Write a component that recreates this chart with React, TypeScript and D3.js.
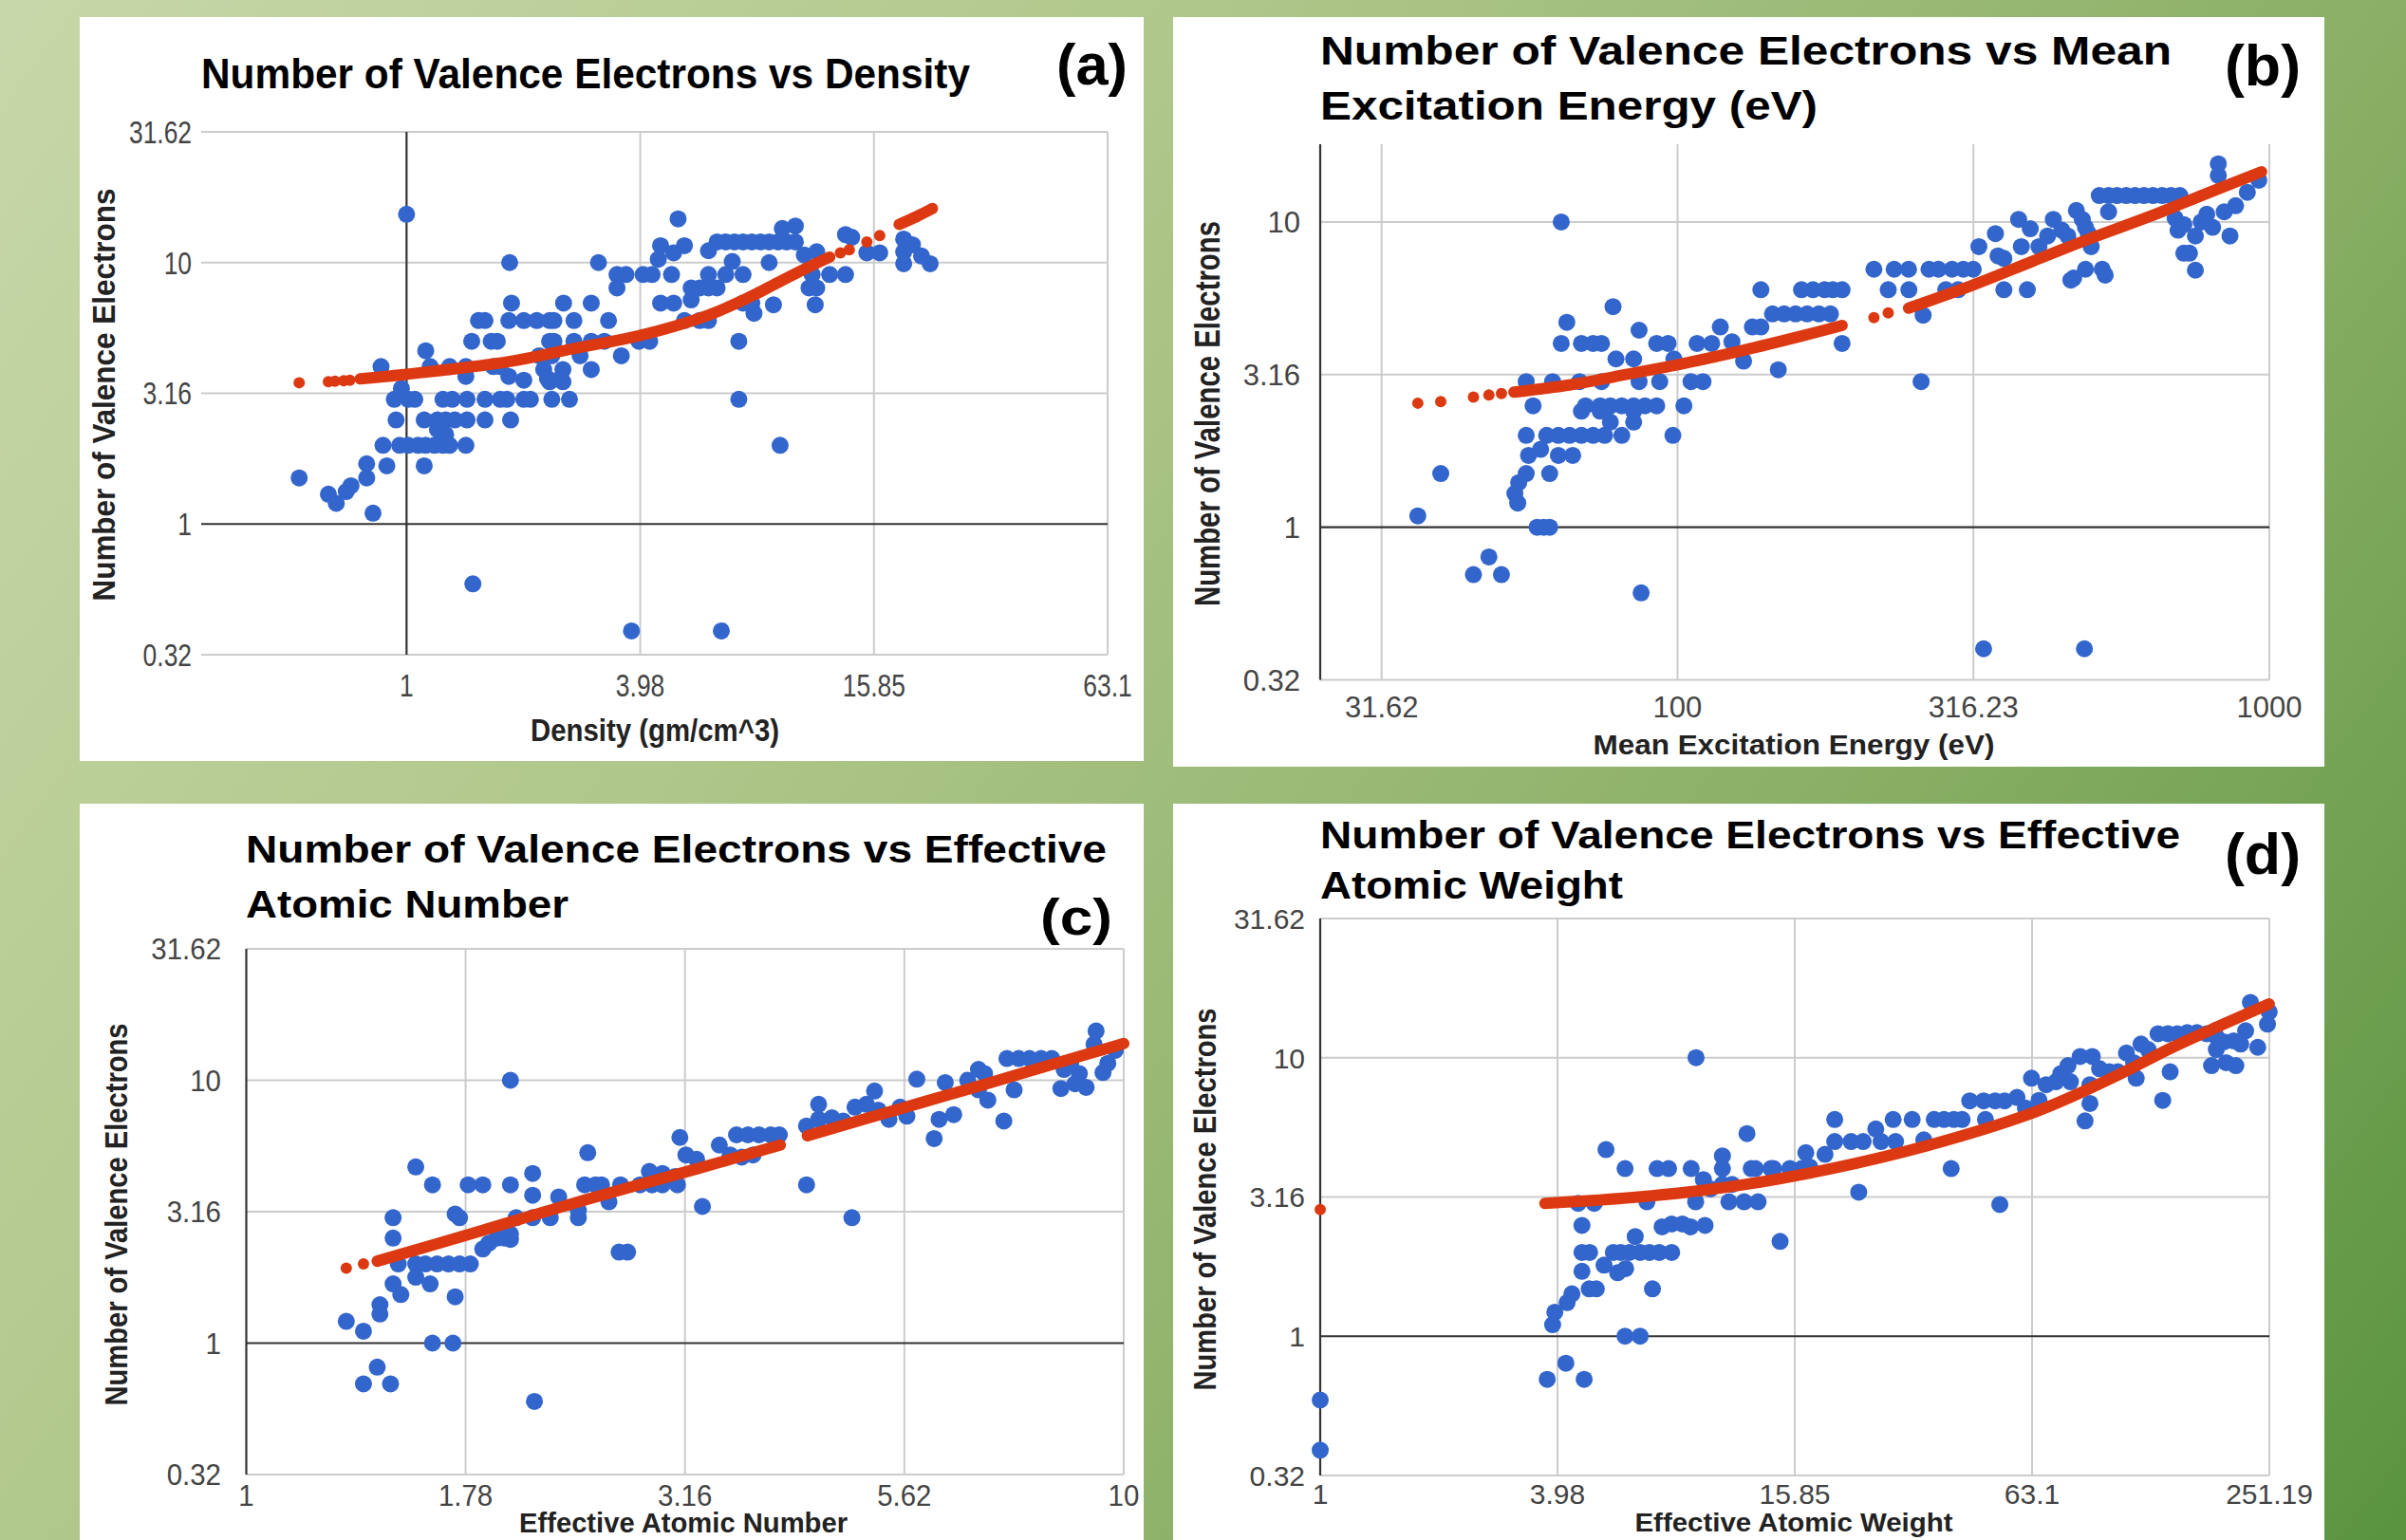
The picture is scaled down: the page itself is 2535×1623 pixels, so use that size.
import React from 'react';
import * as d3 from 'd3';

type Pt = [number, number];

// ---------------- tick values / labels ----------------
const yTickVals = [0.3162, 1, 3.162, 10, 31.62];
const yTickLabels = ['0.32', '1', '3.16', '10', '31.62'];
const yTickValsB = [0.3162, 1, 3.162, 10];
const yTickLabelsB = ['0.32', '1', '3.16', '10'];
const xTickValsA = [1, 3.981, 15.85, 63.1];
const xTickLabelsA = ['1', '3.98', '15.85', '63.1'];
const xTickValsB = [31.62, 100, 316.23, 1000];
const xTickLabelsB = ['31.62', '100', '316.23', '1000'];
const xTickValsC = [1, 1.778, 3.162, 5.623, 10];
const xTickLabelsC = ['1', '1.78', '3.16', '5.62', '10'];
const xTickValsD = [1, 3.981, 15.85, 63.1, 251.19];
const xTickLabelsD = ['1', '3.98', '15.85', '63.1', '251.19'];

// ---------------- (a) density ----------------
const blueA: Pt[] = [
  [0.53, 1.5], [0.63, 1.3], [0.66, 1.2], [0.70, 1.33], [0.72, 1.4], [0.79, 1.5], [0.79, 1.7], [0.82, 1.1], [0.86, 4],
  [1, 15.3], [4.98, 14.7],
  [9.22, 13.5], [9.96, 13.8], [13.4, 12.8], [13.9, 12.5],
  [6.27, 12], [6.6, 12], [6.95, 12], [7.31, 12], [7.7, 12], [8.11, 12], [8.53, 12], [8.99, 12], [9.46, 12], [9.96, 12],
  [4.49, 11.6], [5.17, 11.6], [18.9, 12.3], [19.9, 11.7],
  [4.85, 10.9], [5.96, 11.1], [10.5, 10.7], [11.3, 11], [15.2, 10.9], [16.4, 10.9], [18.9, 11], [21, 10.6],
  [1.84, 10], [3.11, 10], [4.43, 10.3], [6.86, 10.1], [8.53, 10], [18.9, 9.9], [22.1, 9.9],
  [3.47, 9], [3.66, 9], [4.05, 9], [4.27, 9], [4.79, 9], [5.96, 9], [6.6, 9], [7.31, 9], [11, 9], [12.2, 9], [13.4, 9],
  [3.47, 8], [5.38, 8], [5.66, 8], [5.96, 8], [6.27, 8], [10.8, 8], [11.3, 8],
  [1.86, 7], [2.53, 7], [2.98, 7], [4.49, 7], [4.85, 7], [5.38, 7.2], [7.31, 7], [7.7, 7], [8.75, 6.9], [11.2, 6.9],
  [1.53, 6], [1.59, 6], [1.83, 6], [2.0, 6], [2.16, 6], [2.33, 6], [2.39, 6], [2.69, 6], [3.3, 6], [5.17, 6], [5.66, 6], [5.96, 6], [7.8, 6.4],
  [1.47, 5], [1.65, 5], [1.71, 5], [2.33, 5], [2.39, 5], [2.69, 5], [2.98, 5], [3.22, 5], [3.95, 5], [4.21, 5], [7.13, 5],
  [1.12, 4.6], [2.19, 4.4], [2.36, 4.4], [2.79, 4.4], [3.56, 4.4],
  [1.15, 4], [1.29, 4], [1.42, 4], [1.67, 4], [1.74, 4], [2.25, 3.9], [2.52, 3.9], [2.98, 3.9],
  [1.42, 3.67], [1.83, 3.67], [2.3, 3.6], [2.49, 3.6], [2.0, 3.55], [2.33, 3.5], [2.52, 3.5], [0.97, 3.3],
  [0.93, 3], [1.01, 3], [1.05, 3], [1.24, 3], [1.31, 3], [1.43, 3], [1.59, 3], [1.74, 3], [1.81, 3], [2.0, 3], [2.08, 3], [2.36, 3], [2.62, 3], [7.13, 3],
  [0.94, 2.5], [1.11, 2.5], [1.2, 2.5], [1.26, 2.5], [1.33, 2.5], [1.43, 2.5], [1.59, 2.5], [1.85, 2.5], [1.2, 2.3], [1.26, 2.2],
  [0.87, 2], [0.96, 2], [1.01, 2], [1.07, 2], [1.12, 2], [1.18, 2], [1.24, 2], [1.29, 2], [1.42, 2], [9.1, 2],
  [0.89, 1.67], [1.11, 1.67],
  [1.48, 0.59], [3.78, 0.39], [6.43, 0.39],
];
const trendA: Pt[][] = [
  [[0.53, 3.47]], [[0.63, 3.5]], [[0.655, 3.52]], [[0.69, 3.53]], [[0.715, 3.55]],
  [[0.76, 3.59], [1.0, 3.74], [1.83, 4.18], [2.76, 4.73], [3.95, 5.25], [5.96, 6.3], [7.7, 7.45], [9.0, 8.4], [10.6, 9.5], [12.2, 10.5]],
  [[13.0, 10.9]], [[13.7, 11.2]], [[15.2, 12.0]], [[16.4, 12.7]],
  [[18.4, 14.0], [20.4, 15.0], [22.4, 16.1]],
];

// ---------------- (b) mean excitation energy ----------------
const blueB: Pt[] = [
  [36.4, 1.09], [39.8, 1.5], [45.2, 0.70], [48.0, 0.80], [50.4, 0.70], [86.8, 0.61], [329, 0.40], [487, 0.40], [63.6, 10],
  [820, 15.5], [820, 14.2],
  [516, 12.2], [535, 12.2], [553, 12.2], [573, 12.2], [593, 12.2], [614, 12.2], [636, 12.2], [659, 12.2], [682, 12.2], [706, 12.2], [535, 10.8],
  [693, 10.3], [717, 9.8], [767, 10.0], [802, 9.6], [839, 10.8], [877, 11.3], [918, 12.5], [960, 13.7], [858, 9.0], [701, 9.4],
  [784, 10.6], [750, 9.0], [717, 7.9], [733, 7.9], [750, 6.95],
  [377, 10.2], [394.5, 9.5], [431.5, 10.2], [446, 9.4], [472, 10.9], [483, 10.2], [489, 9.6], [456.5, 9.0], [422, 9.0], [408, 8.3],
  [494, 9.2], [500, 8.3], [344.5, 9.16], [381, 8.3], [323, 8.3], [348, 7.74], [356, 7.6],
  [214.7, 7], [232.3, 7], [245.7, 7], [266, 7], [276, 7], [291, 7], [304, 7], [316, 7], [467, 6.55], [489, 7.0], [522, 7.0], [528, 6.7], [462, 6.45],
  [138.3, 6], [162, 6], [169.4, 6], [177.2, 6], [183, 6], [189.7, 6], [227, 6], [246, 6], [284, 6], [298, 6], [356, 6], [390, 6],
  [144.7, 5], [151.4, 5], [158.3, 5], [165.6, 5], [173.3, 5], [181.3, 5], [260, 4.95],
  [118.1, 4.53], [133.8, 4.53], [138.3, 4.53], [86.1, 4.42], [65.0, 4.69], [77.8, 5.28],
  [63.6, 4], [68.8, 4], [72.0, 4], [74.4, 4], [92.2, 4], [96.4, 4], [107.9, 4], [114.2, 4], [123.6, 4.05], [189.7, 4],
  [78.7, 3.56], [84.3, 3.56], [129.3, 3.5], [98.6, 3.56],
  [55.5, 3], [61.5, 3], [68.3, 3], [74.4, 3], [86.1, 3], [93.3, 3], [105.4, 3], [110.4, 3], [148, 3.28], [258, 3.0],
  [57, 2.5], [69.9, 2.5], [74, 2.5], [77, 2.5], [80.5, 2.5], [84.3, 2.5], [88.1, 2.5], [92.2, 2.5], [102.5, 2.5],
  [68.8, 2.4], [74, 2.4], [84.3, 2.4], [77, 2.21], [84.3, 2.21],
  [55.5, 2], [60.1, 2], [62.9, 2], [65.7, 2], [68.8, 2], [72, 2], [75.3, 2], [80.5, 2], [98.2, 2],
  [56, 1.72], [62.9, 1.72], [66.5, 1.72], [58.7, 1.8],
  [60.8, 1.5], [55.5, 1.5], [53.9, 1.4], [53.1, 1.29], [53.7, 1.2],
  [57.9, 1], [59.4, 1], [60.8, 1],
];
const trendB: Pt[][] = [
  [[36.4, 2.55]], [[39.8, 2.58]], [[45.2, 2.67]], [[48.0, 2.71]], [[50.4, 2.74]],
  [[52.9, 2.77], [66.0, 2.93], [82.3, 3.17], [103.2, 3.45], [129.3, 3.8], [162, 4.23], [189.7, 4.58]],
  [[214.7, 4.86]], [[227, 5.04]],
  [[245.7, 5.22], [318, 6.25], [399, 7.45], [500, 8.85], [626, 10.4], [784, 12.4], [970, 14.6]],
];

// ---------------- (c) effective atomic number ----------------
const blueC: Pt[] = [
  [2.0, 10], [1.56, 4.68], [1.30, 1.21], [1.36, 1.11], [1.41, 0.81], [1.36, 0.70], [1.46, 0.70], [1.63, 1], [1.72, 1], [2.13, 0.60],
  [1.42, 1.4], [1.42, 1.29], [1.47, 1.68], [1.5, 1.53], [1.73, 1.5],
  [1.47, 3.0], [1.47, 2.51], [1.63, 4], [1.79, 4], [1.86, 4], [2.0, 4], [2.12, 4.42], [2.12, 3.65], [1.73, 3.1], [1.75, 3.0],
  [1.56, 2], [1.60, 2], [1.65, 2], [1.70, 2], [1.75, 2], [1.80, 2], [1.56, 1.78], [1.62, 1.68], [1.49, 2.0],
  [1.86, 2.28], [1.89, 2.4], [1.93, 2.51], [1.97, 2.51], [2.0, 2.48], [2.0, 2.6],
  [2.03, 3], [2.12, 3], [2.22, 3], [2.39, 3], [2.39, 3.2],
  [2.43, 4], [2.5, 4], [2.54, 4], [2.45, 5.3], [2.27, 3.6], [2.59, 3.45],
  [2.67, 4], [2.81, 4], [2.9, 4], [2.98, 4], [3.1, 4], [2.66, 2.22], [2.72, 2.22],
  [2.88, 4.5], [2.98, 4.42], [3.08, 4.3],
  [3.31, 3.31], [3.12, 6.06], [3.17, 5.2], [3.26, 5.0], [3.46, 5.67], [3.56, 5.2], [3.67, 5.1], [3.78, 5.2],
  [3.62, 6.2], [3.73, 6.2], [3.84, 6.2], [3.96, 6.2], [4.05, 6.2],
  [4.35, 4.0], [4.9, 3.0],
  [4.35, 6.7], [4.49, 7.1], [4.49, 8.1], [4.65, 7.2], [4.79, 7.0],
  [4.94, 7.9], [5.09, 8.1], [5.25, 7.7], [5.4, 7.1], [5.56, 7.9],
  [5.2, 9.1], [5.81, 10.1], [6.26, 9.8], [5.66, 7.3], [6.16, 7.1], [6.4, 7.4], [6.08, 6.0],
  [6.64, 10], [6.94, 10.6], [6.83, 9.2], [7.0, 8.4],
  [7.36, 12.1], [7.59, 12.1], [7.81, 12.1], [8.05, 12.1], [8.28, 12.1],
  [7.5, 9.2], [7.3, 7.0],
  [8.48, 9.3], [8.8, 9.7], [9.06, 9.4], [8.9, 10.6],
  [9.3, 15.4], [9.25, 13.7], [9.47, 10.7], [9.59, 11.6], [9.78, 13.0],
  [8.55, 11.0], [8.7, 11.6], [6.83, 11.0],
];
const trendC: Pt[][] = [
  [[1.30, 1.93]], [[1.36, 2.0]],
  [[1.41, 2.05], [1.8, 2.6], [2.43, 3.5], [3.26, 4.6], [4.06, 5.67]],
  [[4.36, 6.15], [5.09, 7.15], [5.9, 8.25], [6.83, 9.5], [7.93, 11.0], [9.18, 12.7], [10, 13.8]],
];

// ---------------- (d) effective atomic weight ----------------
const blueD: Pt[] = [
  [8.92, 10], [5.28, 4.68], [5.9, 4.0], [7.11, 4], [7.6, 4], [8.67, 4], [10.4, 4.44], [10.4, 4.0], [12.0, 5.34],
  [12.3, 4], [14.0, 4], [15.4, 4], [16.5, 4], [17.3, 4.05],
  [16.9, 4.56], [18.9, 4.5], [20.0, 5], [22.0, 5], [23.6, 5], [25.4, 5.55], [26.2, 5], [28.5, 5], [20.0, 6.0],
  [23.0, 3.29], [14.55, 2.19],
  [28.1, 6], [31.4, 6], [35.7, 6], [37.8, 6], [40.0, 6], [42.0, 6], [48.1, 6], [33.6, 5.07], [39.4, 4.0],
  [43.9, 7], [47.6, 7], [50.9, 7], [53.8, 7], [57.8, 7.2], [60.7, 6.6], [52.3, 2.97],
  [62.9, 8.44], [65.7, 7.03], [68.5, 8.0], [72.5, 8.2], [74.6, 8.77], [77.8, 9.37], [78.9, 8.2], [83.5, 10.1], [89.6, 10.1], [88.4, 8.0],
  [85.9, 5.93], [88.4, 6.85],
  [93.5, 9.13], [99, 8.9], [104, 8.9], [109.3, 10.4], [114, 9.6], [119, 11.2], [124, 10.7], [131.4, 12.2], [139, 12.2], [147, 12.2],
  [155.7, 12.3], [164.8, 12.3], [174.3, 12.2], [184.5, 11.9], [192.5, 11.4], [204, 11.5],
  [115.7, 8.44], [135, 7.03], [141, 8.9],
  [179.4, 9.37], [195.3, 9.6], [206.7, 9.37], [184.5, 10.7],
  [225, 15.8], [234.8, 10.9], [248.5, 13.2], [251, 14.6], [218.8, 12.5], [212.6, 11.2],
  [4.49, 3.0], [4.93, 3.0], [4.59, 2.5], [6.26, 2.28],
  [4.59, 2], [4.8, 2], [5.51, 2], [5.75, 2], [6.05, 2], [6.44, 2], [6.8, 2], [7.2, 2], [7.74, 2],
  [7.32, 2.47], [7.74, 2.53], [8.24, 2.53], [8.64, 2.47], [9.4, 2.5],
  [5.22, 1.8], [5.65, 1.69], [5.92, 1.75], [4.59, 1.71], [4.79, 1.48], [4.99, 1.48], [6.92, 1.48],
  [4.33, 1.42], [4.21, 1.32], [3.92, 1.22], [3.87, 1.10],
  [5.9, 1], [6.44, 1],
  [9.31, 3.65], [9.7, 3.38], [10.4, 3.51], [11.0, 3.51], [10.8, 3.04], [11.8, 3.04], [12.8, 3.04],
  [12.6, 4.0], [13.8, 4.0], [6.7, 3.04], [8.9, 3.04],
  [1, 0.59], [1, 0.39], [3.75, 0.70], [4.18, 0.80], [4.65, 0.70],
];
const trendD: Pt[][] = [
  [[1, 2.85]],
  [[3.7, 3.0], [6.37, 3.16], [11.3, 3.47], [19.6, 4.0], [34.9, 4.87], [61.4, 6.24], [81.2, 7.35], [108, 8.9],
   [143, 10.9], [190, 13.1], [251, 15.6]],
];

// ---------------- layout ----------------
type Txt = { text: string; x: number; y: number; size: number; width: number };
interface PanelCfg {
  box: [number, number, number, number];
  plot: [number, number, number, number];
  xDomain: [number, number];
  yDomain: [number, number];
  xTicks: number[]; xLabels: string[];
  yTicks: number[]; yLabels: string[];
  xBase: number;
  titles: Txt[];
  tag: Txt;
  yTitle: { x: number; cy: number; size: number; len: number };
  xTitle: { text: string; cx: number; y: number; size: number; width: number };
  tick: { size: number; sx: number; yRight: number; xBaseY: number };
  blue: Pt[];
  trend: Pt[][];
}

const YT = 'Number of Valence Electrons';

const panels: PanelCfg[] = [
  {
    box: [84, 18, 1205, 802], plot: [212, 139, 1167, 690],
    xDomain: [0.297, 63.1], yDomain: [0.3162, 31.62],
    xTicks: xTickValsA, xLabels: xTickLabelsA, yTicks: yTickVals, yLabels: yTickLabels, xBase: 1,
    titles: [{ text: 'Number of Valence Electrons vs Density', x: 212, y: 93, size: 44, width: 810 }],
    tag: { text: '(a)', x: 1188, y: 89, size: 62, width: 75 },
    yTitle: { x: 121, cy: 416, size: 34, len: 435 },
    xTitle: { text: 'Density (gm/cm^3)', cx: 690, y: 781, size: 33, width: 262 },
    tick: { size: 33, sx: 0.8, yRight: 202, xBaseY: 734 },
    blue: blueA, trend: trendA,
  },
  {
    box: [1236, 18, 2449, 808], plot: [1391, 152, 2391, 716.6],
    xDomain: [24.9, 1000], yDomain: [0.3162, 17.97],
    xTicks: xTickValsB, xLabels: xTickLabelsB, yTicks: yTickValsB, yLabels: yTickLabelsB, xBase: 24.9,
    titles: [
      { text: 'Number of Valence Electrons vs Mean', x: 1391, y: 68, size: 42, width: 897 },
      { text: 'Excitation Energy (eV)', x: 1391, y: 126, size: 42, width: 524 },
    ],
    tag: { text: '(b)', x: 2424, y: 90, size: 62, width: 80 },
    yTitle: { x: 1285, cy: 436, size: 36, len: 406 },
    xTitle: { text: 'Mean Excitation Energy (eV)', cx: 1890, y: 795, size: 29, width: 423 },
    tick: { size: 31, sx: 1.0, yRight: 1370, xBaseY: 756 },
    blue: blueB, trend: trendB,
  },
  {
    box: [84, 847, 1205, 1623], plot: [259.5, 1000, 1184, 1554],
    xDomain: [1, 10], yDomain: [0.3162, 31.62],
    xTicks: xTickValsC, xLabels: xTickLabelsC, yTicks: yTickVals, yLabels: yTickLabels, xBase: 1,
    titles: [
      { text: 'Number of Valence Electrons vs Effective', x: 259, y: 909, size: 41, width: 907 },
      { text: 'Atomic Number', x: 259, y: 967, size: 41, width: 340 },
    ],
    tag: { text: '(c)', x: 1172, y: 985, size: 54, width: 76 },
    yTitle: { x: 134, cy: 1280, size: 34, len: 403 },
    xTitle: { text: 'Effective Atomic Number', cx: 720, y: 1615, size: 29, width: 346 },
    tick: { size: 31, sx: 0.95, yRight: 233, xBaseY: 1587 },
    blue: blueC, trend: trendC,
  },
  {
    box: [1236, 847, 2449, 1623], plot: [1391, 968, 2391, 1555],
    xDomain: [1, 251.19], yDomain: [0.3162, 31.62],
    xTicks: xTickValsD, xLabels: xTickLabelsD, yTicks: yTickVals, yLabels: yTickLabels, xBase: 1,
    titles: [
      { text: 'Number of Valence Electrons vs Effective', x: 1391, y: 894, size: 41, width: 906 },
      { text: 'Atomic Weight', x: 1391, y: 947, size: 41, width: 319 },
    ],
    tag: { text: '(d)', x: 2424, y: 921, size: 62, width: 80 },
    yTitle: { x: 1281, cy: 1264, size: 34, len: 403 },
    xTitle: { text: 'Effective Atomic Weight', cx: 1890, y: 1614, size: 28, width: 335 },
    tick: { size: 30, sx: 1.0, yRight: 1375, xBaseY: 1585 },
    blue: blueD, trend: trendD,
  },
];

const FONT = '"Liberation Sans", Arial, Helvetica, sans-serif';
const BLUE = '#3366cc';
const RED = '#dc3912';
const GRID = '#cccccc';
const BASE = '#333333';

function Panel({ cfg }: { cfg: PanelCfg }) {
  const [px0, py0, px1, py1] = cfg.plot;
  const x = d3.scaleLog().domain(cfg.xDomain).range([px0, px1]);
  const y = d3.scaleLog().domain(cfg.yDomain).range([py1, py0]);
  const line = d3.line<Pt>().x((d) => x(d[0])).y((d) => y(d[1])).curve(d3.curveCatmullRom.alpha(0.5));
  const [bx0, by0, bx1, by1] = cfg.box;
  const t = cfg.tick;
  return (
    <g>
      <rect x={bx0} y={by0} width={bx1 - bx0} height={by1 - by0} fill="#ffffff" />
      {cfg.yTicks.filter((v) => v !== 1).map((v, i) => (
        <line key={'hy' + i} x1={px0} x2={px1} y1={y(v)} y2={y(v)} stroke={GRID} strokeWidth={2} />
      ))}
      {cfg.xTicks.filter((v) => v !== cfg.xBase).map((v, i) => (
        <line key={'vx' + i} x1={x(v)} x2={x(v)} y1={py0} y2={py1} stroke={GRID} strokeWidth={2} />
      ))}
      <line x1={px0} x2={px1} y1={y(1)} y2={y(1)} stroke={BASE} strokeWidth={2.2} />
      <line x1={x(cfg.xBase)} x2={x(cfg.xBase)} y1={py0} y2={py1} stroke={BASE} strokeWidth={2.2} />
      {cfg.yTicks.map((v, i) => (
        <text key={'yl' + i} transform={`translate(${t.yRight},${y(v) + t.size * 0.36}) scale(${t.sx},1)`}
          textAnchor="end" fontSize={t.size} fill="#444" fontFamily={FONT}>{cfg.yLabels[i]}</text>
      ))}
      {cfg.xTicks.map((v, i) => (
        <text key={'xl' + i} transform={`translate(${x(v)},${t.xBaseY}) scale(${t.sx},1)`}
          textAnchor="middle" fontSize={t.size} fill="#444" fontFamily={FONT}>{cfg.xLabels[i]}</text>
      ))}
      <g fill={BLUE}>
        {cfg.blue.map((d, i) => (
          <circle key={'b' + i} cx={x(d[0])} cy={y(d[1])} r={9} />
        ))}
      </g>
      <g>
        {cfg.trend.map((seg, i) =>
          seg.length > 1 ? (
            <path key={'t' + i} d={line(seg) || ''} fill="none" stroke={RED} strokeWidth={12}
              strokeLinecap="round" strokeLinejoin="round" />
          ) : (
            <circle key={'t' + i} cx={x(seg[0][0])} cy={y(seg[0][1])} r={6} fill={RED} />
          )
        )}
      </g>
      {cfg.titles.map((tt, i) => (
        <text key={'ti' + i} x={tt.x} y={tt.y} fontSize={tt.size} fontWeight="bold" fill="#000"
          fontFamily={FONT} textLength={tt.width} lengthAdjust="spacingAndGlyphs">{tt.text}</text>
      ))}
      <text x={cfg.tag.x - cfg.tag.width} y={cfg.tag.y} fontSize={cfg.tag.size} fontWeight="bold" fill="#000"
        fontFamily={FONT} textLength={cfg.tag.width} lengthAdjust="spacingAndGlyphs">{cfg.tag.text}</text>
      <text transform={`translate(${cfg.yTitle.x},${cfg.yTitle.cy}) rotate(-90)`} textAnchor="middle"
        fontSize={cfg.yTitle.size} fontWeight="bold" fill="#222" fontFamily={FONT}
        textLength={cfg.yTitle.len} lengthAdjust="spacingAndGlyphs">{YT}</text>
      <text x={cfg.xTitle.cx} y={cfg.xTitle.y} textAnchor="middle" fontSize={cfg.xTitle.size} fontWeight="bold"
        fill="#222" fontFamily={FONT} textLength={cfg.xTitle.width} lengthAdjust="spacingAndGlyphs">{cfg.xTitle.text}</text>
    </g>
  );
}

export default function App() {
  const W = 2535;
  const H = 1623;
  return (
    <svg width={W} height={H} viewBox={`0 0 ${W} ${H}`}
      style={{ position: 'absolute', left: 0, top: 0, display: 'block' }}>
      <defs>
        <linearGradient id="bg" gradientUnits="userSpaceOnUse" x1={0} y1={0} x2={2438} y2={1759}>
          <stop offset="0" stopColor="#c8d7a9" />
          <stop offset="0.35" stopColor="#afc78a" />
          <stop offset="0.7" stopColor="#88ae64" />
          <stop offset="1" stopColor="#5a9440" />
        </linearGradient>
      </defs>
      <rect x={0} y={0} width={W} height={H} fill="url(#bg)" />
      {panels.map((p, i) => (
        <Panel key={i} cfg={p} />
      ))}
    </svg>
  );
}
